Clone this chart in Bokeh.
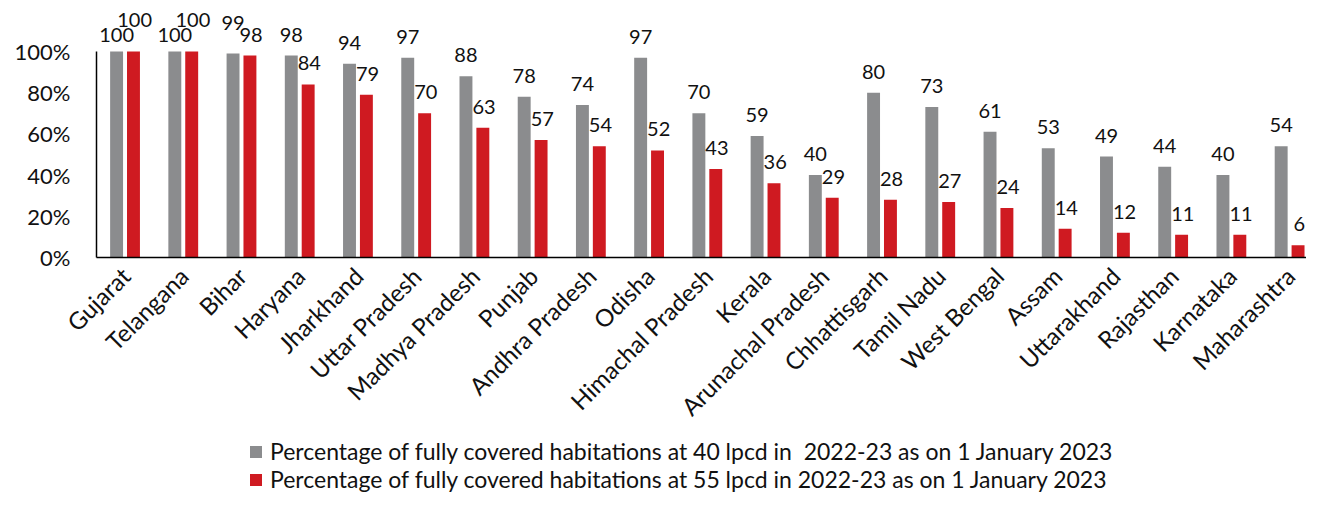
import math
from bokeh.plotting import figure
from bokeh.layouts import column
from bokeh.models import Range1d, FixedTicker, ColumnDataSource, Legend, LegendItem, LabelSet
from bokeh.transform import dodge
from bokeh.core.properties import value
from bokeh.embed import file_html
from bokeh.resources import INLINE

# ---- data ----
states = ["Gujarat", "Telangana", "Bihar", "Haryana", "Jharkhand", "Uttar Pradesh",
          "Madhya Pradesh", "Punjab", "Andhra Pradesh", "Odisha", "Himachal Pradesh",
          "Kerala", "Arunachal Pradesh", "Chhattisgarh", "Tamil Nadu", "West Bengal",
          "Assam", "Uttarakhand", "Rajasthan", "Karnataka", "Maharashtra"]
cov_40 = [100, 100, 99, 98, 94, 97, 88, 78, 74, 97, 70, 59, 40, 80, 73, 61, 53, 49, 44, 40, 54]
cov_55 = [100, 100, 98, 84, 79, 70, 63, 57, 54, 52, 43, 36, 29, 28, 27, 24, 14, 12, 11, 11, 6]
y_ticks = [0, 20, 40, 60, 80, 100]
y_tick_labels = ["0%", "20%", "40%", "60%", "80%", "100%"]
series_names = [
    "Percentage of fully covered habitations at 40 lpcd in  2022-23 as on 1 January 2023",
    "Percentage of fully covered habitations at 55 lpcd in 2022-23 as on 1 January 2023",
]

GRAY = "#8b8c8e"
RED = "#cf1a21"
FONT = "Lato"
TXT = "#111111"

xs = [i + 0.5 for i in range(len(states))]

# label offsets (stagger labels where both bars are nearly equal)
base_off = 14
g_off, r_off = [], []
for g, r in zip(cov_40, cov_55):
    go, ro = base_off, base_off
    if abs(g - r) <= 3:
        if g > r:
            go += 10
        else:
            go -= 4
            ro += 11
    g_off.append(go)
    r_off.append(ro)

src = ColumnDataSource(dict(
    x=xs, g=cov_40, r=cov_55,
    gt=[str(v) for v in cov_40], rt=[str(v) for v in cov_55],
    g_off=g_off, r_off=r_off,
))

FRAME_H = 257
MAIN_H = 435
p = figure(
    width=1306, height=MAIN_H,
    x_range=Range1d(0, 20.78), y_range=Range1d(0, 124.76),
    output_backend="svg", toolbar_location=None,
    min_border_left=96, min_border_top=0, min_border_right=0,
    min_border_bottom=MAIN_H - FRAME_H,
)
p.outline_line_color = None
p.xgrid.visible = False
p.ygrid.visible = False

GX, RX, BW = -0.155, 0.135, 0.222
p.vbar(x=dodge("x", GX, range=p.x_range), top="g", width=BW, source=src,
       fill_color=GRAY, line_color=None)
p.vbar(x=dodge("x", RX, range=p.x_range), top="r", width=BW, source=src,
       fill_color=RED, line_color=None)

for col, txt, off, dx in (("g", "gt", "g_off", GX), ("r", "rt", "r_off", RX + 0.02)):
    ls = LabelSet(x=dodge("x", dx, range=p.x_range), y=col, text=txt, source=src,
                  y_offset=off, text_align="center", text_baseline="alphabetic",
                  text_font=value(FONT), text_font_size="20px", text_color=TXT)
    p.add_layout(ls)

# y axis
ya = p.yaxis[0]
ya.ticker = FixedTicker(ticks=y_ticks)
ya.major_label_overrides = {t: l for t, l in zip(y_ticks, y_tick_labels)}
ya.bounds = (0, 100)
ya.minor_tick_line_color = None
ya.major_tick_line_color = None
ya.major_tick_out = 0
ya.major_tick_in = 0
ya.major_label_standoff = 26
ya.axis_line_color = "#000000"
ya.axis_line_width = 1.5
ya.major_label_text_font = FONT
ya.major_label_text_font_size = "22px"
ya.major_label_text_color = TXT

# x axis
xa = p.xaxis[0]
xa.ticker = FixedTicker(ticks=xs)
xa.major_label_overrides = {x: s for x, s in zip(xs, states)}
xa.minor_tick_line_color = None
xa.major_tick_line_color = None
xa.major_tick_out = 0
xa.major_tick_in = 0
xa.major_label_orientation = math.pi / 4
xa.major_label_standoff = 14
xa.axis_line_color = "#000000"
xa.axis_line_width = 1.5
xa.major_label_text_font = FONT
xa.major_label_text_font_size = "24px"
xa.major_label_text_color = TXT

# ---- legend strip below the chart ----
lg = figure(
    width=1306, height=493 - MAIN_H,
    x_range=Range1d(0, 1), y_range=Range1d(0, 1),
    output_backend="svg", toolbar_location=None,
    x_axis_location=None, y_axis_location=None,
    min_border_left=0, min_border_top=0, min_border_right=0, min_border_bottom=0,
)
lg.outline_line_color = None
lg.xgrid.visible = False
lg.ygrid.visible = False
# legend key renderers (kept outside the visible range)
r_g = lg.vbar(x=[5], top=[5], bottom=[4], width=0.1, fill_color=GRAY, line_color=None)
r_r = lg.vbar(x=[5], top=[5], bottom=[4], width=0.1, fill_color=RED, line_color=None)
legend = Legend(
    items=[LegendItem(label=series_names[0], renderers=[r_g]),
           LegendItem(label=series_names[1], renderers=[r_r])],
    location=(152, 0), orientation="vertical",
    border_line_color=None, background_fill_alpha=0,
    padding=0, margin=0, spacing=0,
    glyph_width=15, glyph_height=15, label_standoff=7,
    label_text_font=FONT, label_text_font_size="23px", label_text_color=TXT,
    label_height=23,
)
lg.add_layout(legend, "center")

layout = column(p, lg, spacing=0)
open("out.html", "w").write(file_html(layout, INLINE))
